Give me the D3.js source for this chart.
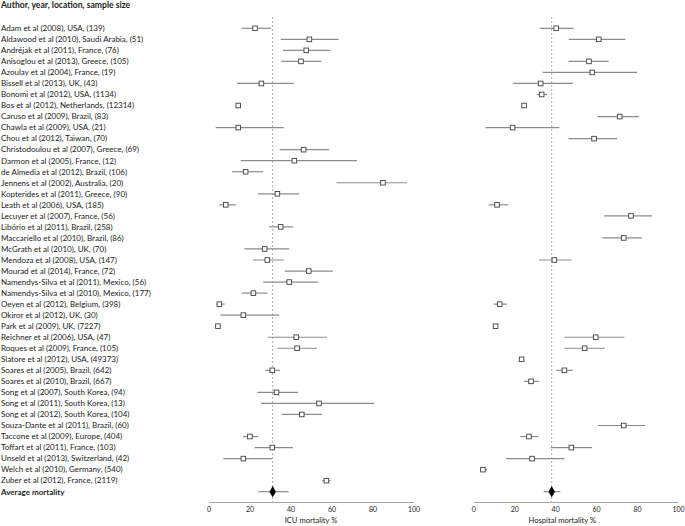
<!DOCTYPE html>
<html>
<head>
<meta charset="utf-8">
<script src="https://cdn.jsdelivr.net/npm/d3@7"></script>
<style>
  body { margin: 0; background: #fff; }
  svg text { font-family: Lato, "Open Sans", sans-serif; fill: #222; }
</style>
</head>
<body>
<svg id="chart" width="685" height="526"></svg>
<script>
// Studies, one per row (last row is the pooled average)
var studies = ["Adam et al (2008), USA, (139)", "Aldawood et al (2010), Saudi Arabia, (51)",
  "Andréjak et al (2011), France, (76)", "Anisoglou et al (2013), Greece, (105)",
  "Azoulay et al (2004), France, (19)", "Bissell et al (2013), UK, (43)",
  "Bonomi et al (2012), USA, (1134)", "Bos et al (2012), Netherlands, (12314)",
  "Caruso et al (2009), Brazil, (83)", "Chawla et al (2009), USA, (21)",
  "Chou et al (2012), Taiwan, (70)", "Christodoulou et al (2007), Greece, (69)",
  "Darmon et al (2005), France, (12)", "de Almedia et al (2012), Brazil, (106)",
  "Jennens et al (2002), Australia, (20)", "Kopterides et al (2011), Greece, (90)",
  "Leath et al (2006), USA, (185)", "Lecuyer et al (2007), France, (56)",
  "Libório et al (2011), Brazil, (258)", "Maccariello et al (2010), Brazil, (86)",
  "McGrath et al (2010), UK, (70)", "Mendoza et al (2008), USA, (147)",
  "Mourad et al (2014), France, (72)", "Namendys-Silva  et al (2011), Mexico, (56)",
  "Namendys-Silva et al (2010), Mexico, (177)", "Oeyen et al (2012), Belgium, (398)",
  "Okiror et al (2012), UK, (30)", "Park et al (2009), UK, (7227)",
  "Reichner et al (2006), USA, (47)", "Roques et al (2009), France, (105)",
  "Slatore et al (2012), USA, (49373)", "Soares et al (2005), Brazil, (642)",
  "Soares et al (2010), Brazil, (667)", "Song et al (2007), South Korea, (94)",
  "Song et al (2011), South Korea, (13)", "Song et al (2012), South Korea, (104)",
  "Souza-Dante et al (2011), Brazil, (60)", "Taccone et al (2009), Europe, (404)",
  "Toffart et al (2011), France, (103)", "Unseld et al (2013), Switzerland, (42)",
  "Welch et al (2010), Germany, (540)", "Zuber et al (2012), France, (2119)",
  "Average mortality"];

// ICU mortality % (null = not reported)
var icuMean = [22.7, 49.2, 47.7, 45.1, null, 25.8, null, 14.5, null, 14.5, null, 46.4, 41.9, 18.1,
  85.1, 33.6, 8.4, null, 35.2, null, 27.4, 28.7, 48.9, 39.4, 21.9, 5.3, 17.0, 4.6, 42.8, 43.2,
  null, 31.1, null, 33.2, 53.9, 45.5, null, 20.2, 31.1, 17.0, null, 57.5, 31.3];
var icuLow = [16.2, 35.2, 36.3, 35.5, null, 13.9, null, null, null, 3.5, null, 34.7, 15.7, 11.5,
  62.4, 24.1, 5.3, null, 29.5, null, 17.5, 21.7, 37.2, 26.7, 16.2, 3.7, 5.8, null, 28.9, 33.6,
  null, 27.7, null, 23.8, 25.6, 35.7, null, 16.7, 22.5, 7.2, null, 55.4, 24.3];
var icuHigh = [30.5, 63.5, 59.4, 55.0, null, 41.6, null, null, null, 36.7, null, 58.9, 72.4, 26.7,
  96.8, 44.3, 13.3, null, 41.4, null, 39.4, 37.0, 60.7, 53.4, 28.7, 7.9, 34.5, null, 57.8, 52.9,
  null, 34.9, null, 43.7, 80.9, 55.4, null, 24.3, 41.2, 31.1, null, 59.6, 39.1];

// Hospital mortality %
var hospMean = [40.5, 61.3, null, 56.5, 58.1, 32.9, 33.4, 24.8, 71.5, 19.2, 59.0, null, null, null,
  null, null, 11.6, 77.0, null, 73.5, null, 39.6, null, null, null, 12.9, null, 10.9, 59.8, 54.4,
  23.6, 44.5, 28.2, null, null, null, 73.5, 27.2, 47.9, 28.7, 4.7, null, 38.3];
var hospLow = [32.4, 46.6, null, 46.6, 33.9, 19.4, 31.0, null, 60.6, 5.9, 46.6, null, null, null,
  null, null, 7.5, 64.0, null, 63.0, null, 32.1, null, null, null, 10.0, null, null, 44.6, 44.6,
  null, 40.5, 24.8, null, null, null, 60.8, 23.0, 37.8, 16.0, 3.4, null, 34.4];
var hospHigh = [49.0, 74.3, null, 66.1, 80.0, 48.7, 36.0, null, 80.9, 42.0, 70.3, null, null, null,
  null, null, 17.0, 87.3, null, 82.4, null, 48.1, null, null, null, 16.5, null, null, 73.8, 64.2,
  null, 48.6, 32.1, null, null, null, 84.0, 31.9, 58.0, 44.6, 6.7, null, 42.5];

var ticks = [0, 20, 40, 60, 80, 100];

var svg = d3.select("#chart");
var axisY = 502;

var y = d3.scalePoint()
  .domain(d3.range(studies.length))
  .range([28.3, 491.7]);

// Header
svg.append("text")
  .attr("x", 1).attr("y", 5).attr("dy", "0.35em")
  .style("font-size", "8.6px").style("font-weight", "bold")
  .text("Author, year, location, sample size");

// Study labels
svg.selectAll("text.label")
  .data(studies)
  .enter()
  .append("text")
  .attr("class", "label")
  .attr("x", 1)
  .attr("y", function(d, i) { return y(i); })
  .attr("dy", "0.35em")
  .style("font-size", "8px")
  .style("font-weight", function(d, i) { return i == studies.length - 1 ? "bold" : "normal"; })
  .text(function(d) { return d; });

// Draw one forest panel
function panel(range, mean, low, high, title, titleAt)
{
  var x = d3.scaleLinear().domain([0, 100]).range(range);
  var g = svg.append("g");
  var last = studies.length - 1;

  // reference line at the pooled mean
  g.append("line")
    .attr("x1", x(mean[last])).attr("x2", x(mean[last]))
    .attr("y1", 17).attr("y2", axisY)
    .attr("stroke", "#8fb3e0").attr("stroke-width", 1)
    .attr("stroke-dasharray", "2,2");

  var rows = d3.range(studies.length).filter(function(i) { return mean[i] != null; });

  // confidence intervals
  g.selectAll("line.ci")
    .data(rows.filter(function(i) { return low[i] != null; }))
    .enter()
    .append("line")
    .attr("class", "ci")
    .attr("x1", function(i) { return x(low[i]); })
    .attr("x2", function(i) { return x(high[i]); })
    .attr("y1", function(i) { return y(i); })
    .attr("y2", function(i) { return y(i); })
    .attr("stroke", "#8c8c8c").attr("stroke-width", 1.2);

  // study squares
  g.selectAll("rect.pt")
    .data(rows.filter(function(i) { return i != last; }))
    .enter()
    .append("rect")
    .attr("class", "pt")
    .attr("x", function(i) { return x(mean[i]) - 2.3; })
    .attr("y", function(i) { return y(i) - 2.3; })
    .attr("width", 4.6).attr("height", 4.6)
    .attr("fill", "#fff").attr("stroke", "#404040").attr("stroke-width", 0.9);

  // pooled diamond
  g.append("path")
    .attr("d", d3.symbol().type(d3.symbolDiamond).size(36))
    .attr("transform", "translate(" + x(mean[last]) + "," + y(last) + ")")
    .attr("fill", "#000");

  // axis
  var axis = g.append("g")
    .attr("transform", "translate(0," + axisY + ")")
    .call(d3.axisBottom(x).tickValues(ticks).tickSize(0).tickPadding(5));
  axis.select(".domain").attr("stroke", "#a6a6a6");
  axis.selectAll("text")
    .style("font-family", "Lato, sans-serif").style("font-size", "7px").attr("fill", "#222");

  g.append("text")
    .attr("x", x(titleAt)).attr("y", 520).attr("dy", "0.35em")
    .style("text-anchor", "middle").style("font-size", "7.6px")
    .text(title);
}

panel([208.5, 413.5], icuMean, icuLow, icuHigh, "ICU mortality %", 50);
panel([473.3, 678], hospMean, hospLow, hospHigh, "Hospital mortality %", 43.5);
</script>
</body>
</html>
